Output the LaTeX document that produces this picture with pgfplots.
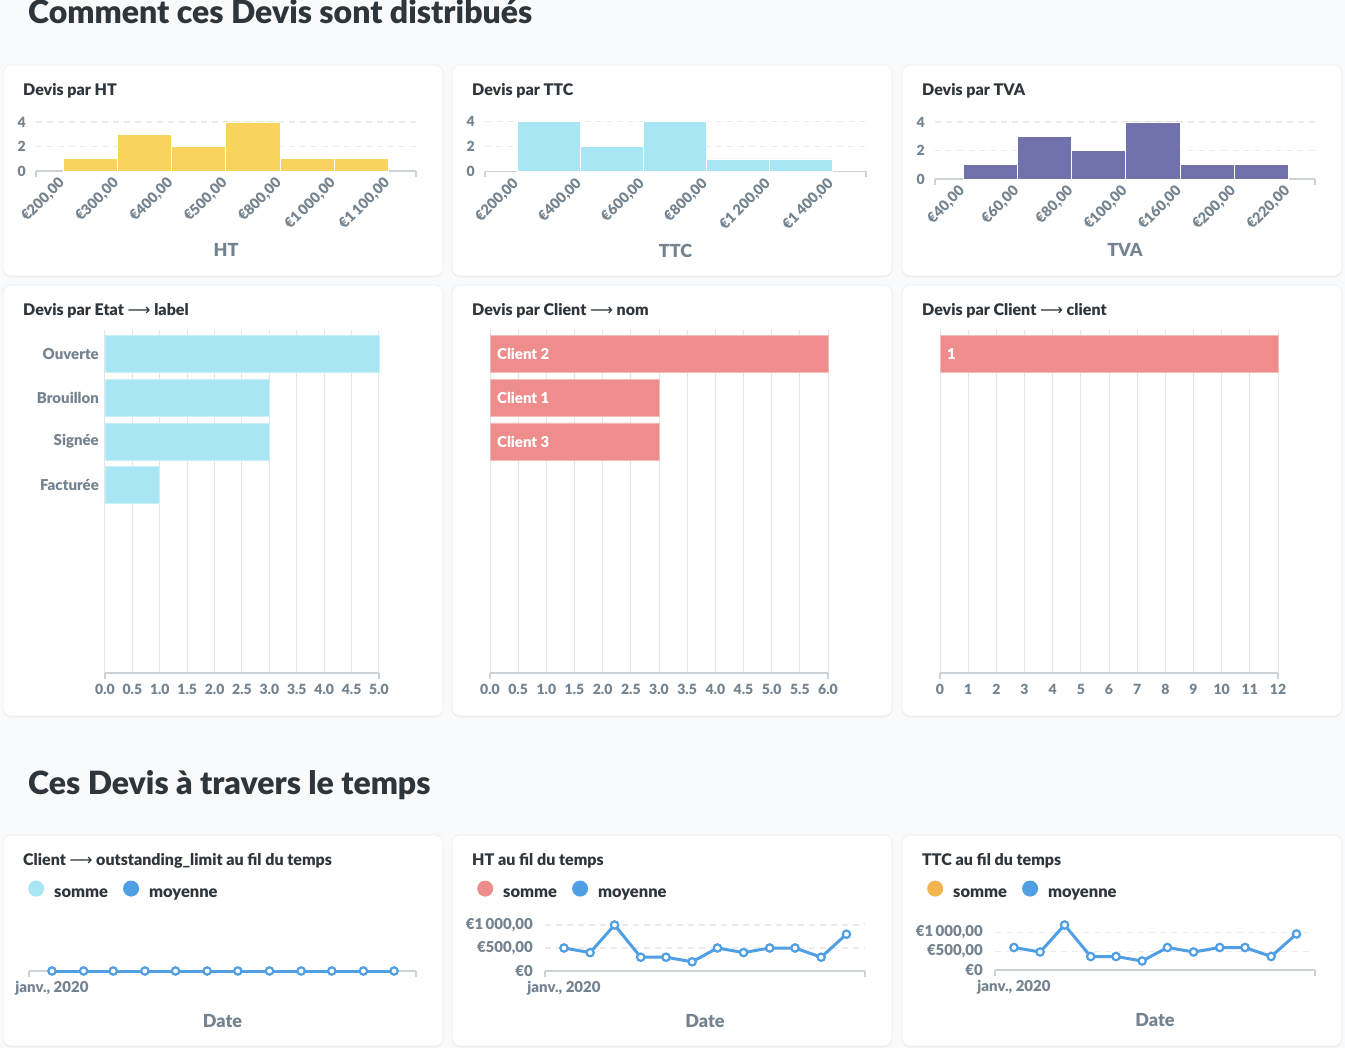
\documentclass[border=0pt]{standalone}
\usepackage{fontspec}
\setmainfont{Lato}[BoldFont={Lato Black}]
\newfontfamily\arrfont{DejaVu Sans}
\usepackage{pgfplots}
\pgfplotsset{compat=1.18}
\definecolor{bgc}{HTML}{F9FAFB}
\definecolor{cardborder}{HTML}{EAEDF0}
\definecolor{titlec}{HTML}{2E353B}
\definecolor{tickc}{HTML}{74838F}
\definecolor{axisc}{HTML}{CDD2D7}
\definecolor{gridc}{HTML}{E9ECEF}
\definecolor{vgridc}{HTML}{E3E6E9}
\definecolor{yellowc}{HTML}{F8D45F}
\definecolor{cyanc}{HTML}{A7E6F2}
\definecolor{purplec}{HTML}{7172AD}
\definecolor{salmonc}{HTML}{EF8C8C}
\definecolor{bluec}{HTML}{509EE3}
\definecolor{orangec}{HTML}{F2B550}
\newcommand{\fs}[1]{\fontsize{#1}{#1}\selectfont}
\newcommand{\arr}{{\arrfont\mdseries ⟶}}
\newcommand{\janv}{janv., 2020}
\pgfplotsset{
  base/.style={scale only axis, anchor=south west, clip=false,
    axis x line*=bottom, axis y line*=left,
    y axis line style={draw=none},
    x axis line style={draw=axisc, line width=1.2pt},
    major tick length=0pt,
    tick label style={font=\bfseries\fs{14}, text=tickc},
    /pgf/number format/assume math mode=true,
    extra x tick style={grid=none, major tick length=6pt, tick align=outside, tick style={draw=axisc, line width=1.2pt}},
    extra x tick labels={},
  },
  hist/.style={base, ymin=0, ymax=4, ytick={0,2,4}, ymajorgrids,
    major grid style={draw=gridc, dash pattern=on 6pt off 5pt, line width=1.2pt},
    yticklabel style={anchor=east, inner sep=0pt, xshift=-10pt},
    xticklabel style={inner sep=0pt, yshift=-5pt, xshift=-5.5pt, rotate=45, anchor=north east, font=\bfseries\fs{14.5}},
    xlabel style={font=\bfseries\fs{18}, text=tickc, at={(axis description cs:0.5,0)}, anchor=center},
  },
  barc/.style={base, xmin=0, ymin=-4.30, ymax=3.55, height=343pt, xmajorgrids,
    major grid style={draw=vgridc, line width=1pt},
    xticklabel style={anchor=north, inner sep=0pt, yshift=-11pt},
    yticklabel style={anchor=east, inner sep=0pt, xshift=-6pt, font=\bfseries\fs{15}},
  },
  linec/.style={base, height=46pt, xmin=-22.5, xmax=357, ymin=0,
    tick label style={font=\bfseries\fs{15}},
    xtick={0}, xticklabels={\janv},
    xticklabel style={anchor=north, inner sep=0pt, yshift=-10.5pt},
    extra x ticks={-22.5,357},
    xlabel={Date},
    xlabel style={font=\bfseries\fs{18}, text=tickc, at={(axis description cs:0.5,0)}, anchor=center, yshift=-50pt},
    ymajorgrids, major grid style={draw=gridc, dash pattern=on 6pt off 5pt, line width=1.2pt},
    yticklabel style={anchor=east, inner sep=0pt, xshift=-12pt},
    legend columns=-1,
    legend style={draw=none, fill=none, inner sep=0pt, anchor=west,
      font=\bfseries\fs{16.5}, text=titlec, nodes={inner sep=0pt},
      /tikz/every odd column/.append style={column sep=10pt},
      /tikz/every even column/.append style={column sep=15pt}},
    legend image code/.code={\fill[#1, draw=none] (8pt,5.7pt) circle (8pt);},
  },
  ln/.style={bluec, line width=3pt, mark=*, mark size=3.7pt, mark options={fill=white, draw=bluec, line width=2.2pt}},
}
\begin{document}
\begin{tikzpicture}
\useasboundingbox (0pt,0pt) rectangle (1345pt,-1048pt);
\fill[bgc] (0pt,0pt) rectangle (1345pt,-1048pt);
% cards
\foreach \x/\xx in {3/443, 452/892, 902/1342}{
  \foreach \y/\yy in {65/276, 285/716, 835/1046}{
    \fill[black!6, rounded corners=8pt] (\x pt,-\y pt-1.2pt) rectangle (\xx pt,-\yy pt-1.5pt);
    \fill[white, draw=cardborder, line width=0.6pt, rounded corners=8pt] (\x pt,-\y pt) rectangle (\xx pt,-\yy pt);
  }
}
% headings
\node[anchor=base west, font=\bfseries\fs{32}, text=titlec, inner sep=0pt] at (28pt,-24pt) {Comment ces Devis sont distribués};
\node[anchor=base west, font=\bfseries\fs{32}, text=titlec, inner sep=0pt] at (28pt,-794pt) {Ces Devis à travers le temps};
% titles
\begin{scope}[every node/.style={anchor=base west, font=\bfseries\fs{16}, text=titlec, inner sep=0pt}]
\node at (23pt,-95.5pt) {Devis par HT};
\node at (472pt,-95.5pt) {Devis par TTC};
\node at (922pt,-95.5pt) {Devis par TVA};
\node at (23pt,-315.5pt) {Devis par Etat \arr{} label};
\node at (472pt,-315.5pt) {Devis par Client \arr{} nom};
\node at (922pt,-315.5pt) {Devis par Client \arr{} client};
\node at (23pt,-865.5pt) {Client \arr{} outstanding\_limit au fil du temps};
\node at (472pt,-865.5pt) {HT au fil du temps};
\node at (922pt,-865.5pt) {TTC au fil du temps};
\end{scope}

% ---------- Histogram HT
\begin{axis}[hist, at={(36pt,-171pt)}, width=380pt, height=49pt,
  xmin=-0.50, xmax=6.51, xtick={0,...,6},
  xticklabels={{€200,00},{€300,00},{€400,00},{€500,00},{€800,00},{€1\,000,00},{€1\,100,00}},
  extra x ticks={-0.50,6.51}, xlabel={HT}, xlabel style={yshift=-79pt}]
\addplot[ybar interval, fill=yellowc, draw=white, line width=0.8pt] coordinates {(0,1)(1,3)(2,2)(3,4)(4,1)(5,1)(6,1)};
\end{axis}
% ---------- Histogram TTC
\begin{axis}[hist, at={(485pt,-171.5pt)}, width=381pt, height=50pt,
  xmin=-0.51, xmax=5.54, xtick={0,...,5},
  xticklabels={{€200,00},{€400,00},{€600,00},{€800,00},{€1\,200,00},{€1\,400,00}},
  extra x ticks={-0.51,5.54}, xlabel={TTC}, xlabel style={yshift=-79pt}]
\addplot[ybar interval, fill=cyanc, draw=white, line width=0.8pt] coordinates {(0,4)(1,2)(2,4)(3,1)(4,1)(5,1)};
\end{axis}
% ---------- Histogram TVA
\begin{axis}[hist, at={(935pt,-179pt)}, width=380pt, height=57pt,
  xmin=-0.52, xmax=6.49, xtick={0,...,6},
  xticklabels={{€40,00},{€60,00},{€80,00},{€100,00},{€160,00},{€200,00},{€220,00}},
  extra x ticks={-0.52,6.49}, xlabel={TVA}, xlabel style={yshift=-71pt}]
\addplot[ybar interval, fill=purplec, draw=white, line width=0.8pt] coordinates {(0,1)(1,3)(2,2)(3,4)(4,1)(5,1)(6,1)};
\end{axis}

% ---------- Etat
\begin{axis}[barc, at={(105pt,-673pt)}, width=274pt, xmax=5, xtick distance=0.5,
  xticklabel style={/pgf/number format/.cd, fixed, fixed zerofill, precision=1},
  ytick={0,1,2,3}, yticklabels={Facturée,Signée,Brouillon,Ouverte},
  extra x ticks={0,5}]
\addplot[xbar, bar width=37pt, fill=cyanc, draw=cyanc!60!white, line width=0.6pt] coordinates {(5,3)(3,2)(3,1)(1,0)};
\end{axis}
% ---------- Client nom
\begin{axis}[barc, at={(490pt,-673pt)}, width=338pt, xmax=6, xtick distance=0.5,
  xticklabel style={/pgf/number format/.cd, fixed, fixed zerofill, precision=1},
  ytick=\empty, extra x ticks={0,6}]
\addplot[xbar, bar width=37pt, fill=salmonc, draw=salmonc!60!white, line width=0.6pt] coordinates {(6,3)(3,2)(3,1)};
\addplot[draw=none, mark=none, point meta=explicit symbolic, nodes near coords,
  every node near coord/.append style={anchor=west, xshift=7pt, inner sep=0pt, text=white, font=\bfseries\fs{15}}]
  coordinates {(0,3)[Client 2] (0,2)[Client 1] (0,1)[Client 3]};
\end{axis}
% ---------- Client client
\begin{axis}[barc, at={(940pt,-673pt)}, width=338pt, xmax=12, xtick distance=1,
  ytick=\empty, extra x ticks={0,12}]
\addplot[xbar, bar width=37pt, fill=salmonc, draw=salmonc!60!white, line width=0.6pt] coordinates {(12,3)};
\addplot[draw=none, mark=none, point meta=explicit symbolic, nodes near coords,
  every node near coord/.append style={anchor=west, xshift=7pt, inner sep=0pt, text=white, font=\bfseries\fs{15}}]
  coordinates {(0,3)[1]};
\end{axis}

% ---------- Line outstanding
\begin{axis}[linec, at={(29pt,-971pt)}, width=387pt, xmax=356.5, extra x ticks={-22.5,356.5}, ymax=1, ytick=\empty,
  legend style={at={(axis description cs:-0.0026,1.761)}}]
\addlegendimage{fill=cyanc}\addlegendentry{somme}
\addlegendimage{fill=bluec}\addlegendentry{moyenne}
\addplot[ln, forget plot] coordinates {(0,0)(31,0)(60,0)(91,0)(121,0)(152,0)(182,0)(213,0)(244,0)(274,0)(305,0)(335,0)};
\end{axis}
% ---------- Line HT
\begin{axis}[linec, at={(545pt,-971pt)}, width=320pt, ymax=1000, ytick={0,500,1000},
  yticklabels={€0,{€500,00},{€1\,000,00}},
  legend style={at={(axis description cs:-0.2125,1.761)}}]
\addlegendimage{fill=salmonc}\addlegendentry{somme}
\addlegendimage{fill=bluec}\addlegendentry{moyenne}
\addplot[ln, forget plot] coordinates {(0,500)(31,400)(60,1000)(91,300)(121,300)(152,200)(182,500)(213,400)(244,500)(274,500)(305,300)(335,800)};
\end{axis}
% ---------- Line TTC
\begin{axis}[linec, at={(995pt,-970pt)}, width=320pt, height=45pt, ymax=1200, ytick={0,500,1000},
  yticklabels={€0,{€500,00},{€1\,000,00}},
  legend style={at={(axis description cs:-0.2125,1.778)}}]
\addlegendimage{fill=orangec}\addlegendentry{somme}
\addlegendimage{fill=bluec}\addlegendentry{moyenne}
\addplot[ln, forget plot] coordinates {(0,600)(31,480)(60,1200)(91,360)(121,360)(152,240)(182,600)(213,480)(244,600)(274,600)(305,360)(335,960)};
\end{axis}
\end{tikzpicture}
\end{document}
